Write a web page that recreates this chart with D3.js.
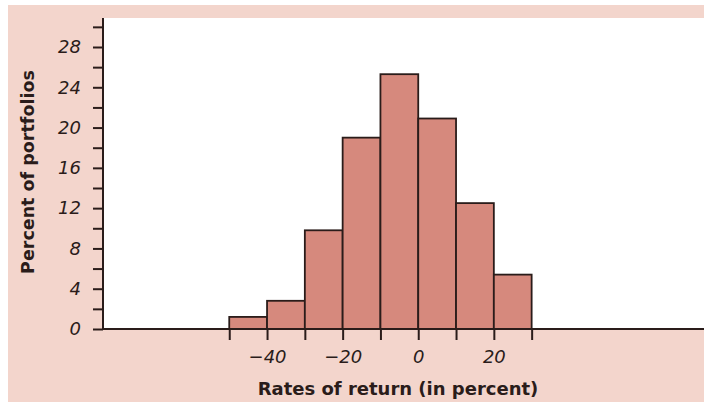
<!DOCTYPE html>
<html><head><meta charset="utf-8">
<script src="https://cdn.jsdelivr.net/npm/d3@7/dist/d3.min.js"></script>
<style>body{margin:0;background:#fff}svg{display:block}</style>
</head><body>
<script>
const binStarts = [-50, -40, -30, -20, -10, 0, 10, 20];
const binWidth = 10;
const percents = [1.2, 2.8, 9.8, 19.0, 25.3, 20.9, 12.5, 5.4];
const yTickValues = [0, 4, 8, 12, 16, 20, 24, 28];
const yMinorTicks = [2, 6, 10, 14, 18, 22, 26, 30];
const xTickLabels = [-40, -20, 0, 20];
const xTickMarks = [-50, -40, -30, -20, -10, 0, 10, 20, 30];

const W = 704, H = 402;
const svg = d3.select("body").append("svg").attr("width", W).attr("height", H);
const pink = "#f3d5cc";
svg.append("rect").attr("x", 8).attr("y", 5).attr("width", W - 8).attr("height", H - 5).attr("fill", pink);
svg.append("rect").attr("x", 103).attr("y", 18).attr("width", W - 103).attr("height", 329 - 18).attr("fill", "#fff");

const x = d3.scaleLinear().domain([-83.4, 75.6]).range([103, 704]);
const y = d3.scaleLinear().domain([0, 28]).range([329, 47]);

const font = "'DejaVu Sans', sans-serif";
const ink = "#2a1c1a";

// bars
svg.append("g").selectAll("rect").data(binStarts).join("rect")
  .attr("x", (d) => x(d))
  .attr("y", (d, i) => y(percents[i]))
  .attr("width", (d) => x(d + binWidth) - x(d))
  .attr("height", (d, i) => y(0) - y(percents[i]))
  .attr("fill", "#d6897d")
  .attr("stroke", ink).attr("stroke-width", 1.8);

// y axis
const yAxis = d3.axisLeft(y).tickValues(yTickValues).tickSize(10).tickPadding(12).tickSizeOuter(0);
const gy = svg.append("g").attr("transform", "translate(103,0)").call(yAxis);
gy.select(".domain").remove();
gy.append("line").attr("x1", 0).attr("x2", 0).attr("y1", 18).attr("y2", 330).attr("stroke", ink).attr("stroke-width", 2);
gy.selectAll(".tick line").attr("stroke", ink).attr("stroke-width", 2);
gy.selectAll(".tick text").attr("fill", ink).style("font-family", font).style("font-size", "18px").style("font-style", "italic");
const yMinor = d3.axisLeft(y).tickValues(yMinorTicks).tickSize(10).tickFormat("");
const gy2 = svg.append("g").attr("transform", "translate(103,0)").call(yMinor);
gy2.select(".domain").remove();
gy2.selectAll(".tick line").attr("stroke", ink).attr("stroke-width", 2);

// x axis
const xAxis = d3.axisBottom(x).tickValues(xTickMarks).tickSize(11).tickSizeOuter(0)
  .tickFormat((d) => xTickLabels.includes(d) ? (d < 0 ? "\u2212" + Math.abs(d) : d) : "");
const gx = svg.append("g").attr("transform", "translate(0,329)").call(xAxis);
gx.select(".domain").remove();
gx.append("line").attr("x1", 103).attr("x2", 704).attr("y1", 0).attr("y2", 0).attr("stroke", ink).attr("stroke-width", 2);
gx.selectAll(".tick line").attr("stroke", ink).attr("stroke-width", 2);
gx.selectAll(".tick text").attr("fill", ink).attr("dy", "1.1em").style("font-family", font).style("font-size", "18px").style("font-style", "italic");

svg.append("text").attr("x", 398).attr("y", 395).attr("text-anchor", "middle")
  .style("font-family", font).style("font-size", "18px").style("font-weight", "bold").attr("fill", ink)
  .text("Rates of return (in percent)");
svg.append("text").attr("transform", "translate(34,172) rotate(-90)").attr("text-anchor", "middle")
  .style("font-family", font).style("font-size", "17.5px").style("font-weight", "bold").attr("fill", ink)
  .text("Percent of portfolios");
</script>
</body></html>
